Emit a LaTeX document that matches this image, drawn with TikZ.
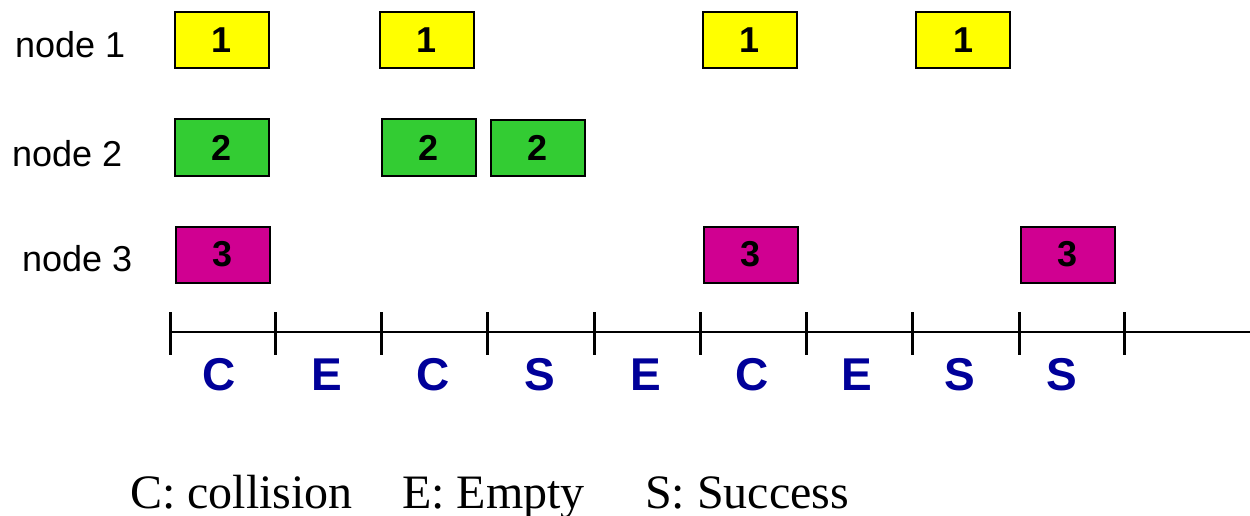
\documentclass[tikz,border=0pt]{standalone}
\usepackage{fontspec}
\setmainfont{Liberation Serif}
\setsansfont{Liberation Sans}
\definecolor{boxyellow}{RGB}{255,255,0}
\definecolor{boxgreen}{RGB}{51,204,51}
\definecolor{boxmagenta}{RGB}{208,0,145}
\definecolor{slotblue}{RGB}{0,0,153}
\tikzset{
  slotbox/.style={draw=black, line width=2pt, minimum width=94pt, minimum height=56pt, inner sep=0pt,
    font=\sffamily\bfseries\fontsize{36}{38}\selectfont},
  ybox/.style={slotbox, fill=boxyellow},
  gbox/.style={slotbox, fill=boxgreen},
  mbox/.style={slotbox, fill=boxmagenta},
  rowlabel/.style={anchor=base west, inner sep=0pt, font=\sffamily\fontsize{36}{40}\selectfont},
  slotletter/.style={anchor=base, inner sep=0pt, text=slotblue, font=\sffamily\bfseries\fontsize{46}{48}\selectfont},
  tick/.style={line width=3pt},
  axis/.style={line width=1.4pt},
  legend/.style={anchor=base west, inner sep=0pt, font=\rmfamily\fontsize{48}{50}\selectfont}
}
\begin{document}
\begin{tikzpicture}[x=1pt,y=-1pt]
\useasboundingbox (0,0) rectangle (1250,516);
% row labels
\node[rowlabel] (l1) at (15,58) {node 1};
\node[rowlabel] (l2) at (12,166) {node 2};
\node[rowlabel] (l3) at (22,271) {node 3};
% node 1 boxes
\node[ybox] (a1) at (221.5,40) {1};
\node[ybox] (a2) at (427,40) {1};
\node[ybox] (a3) at (750,40) {1};
\node[ybox] (a4) at (963,40) {1};
% node 2 boxes
\node[gbox] (b1) at (221.5,147.5) {2};
\node[gbox] (b2) at (429,147.5) {2};
\node[gbox] (b3) at (537.5,148) {2};
% node 3 boxes
\node[mbox] (c1) at (222.5,254.5) {3};
\node[mbox] (c2) at (750.5,254.5) {3};
\node[mbox] (c3) at (1067.5,254.5) {3};
% timeline
\coordinate (t0) at (170,332);
\coordinate (tend) at (1250,332);
\draw[axis] (t0) -- (tend);
\foreach \i/\x in {0/170,1/275,2/381,3/487,4/594,5/700,6/806,7/912,8/1019,9/1124}{
  \coordinate (k\i) at (\x,333);
  \draw[tick] ([yshift=21pt]k\i) -- ([yshift=-22pt]k\i);
}
% slot letters
\foreach \i/\x/\s in {1/219/C,2/327/E,3/433/C,4/540/S,5/646/E,6/752/C,7/857/E,8/960/S,9/1062/S}{
  \node[slotletter] (s\i) at (\x,390) {\s};
}
% legend
\node[legend] (g1) at (130,508) {C: collision};
\node[legend] (g2) at (402,508) {E: Empty};
\node[legend] (g3) at (645,508) {S: Success};
\end{tikzpicture}
\end{document}
